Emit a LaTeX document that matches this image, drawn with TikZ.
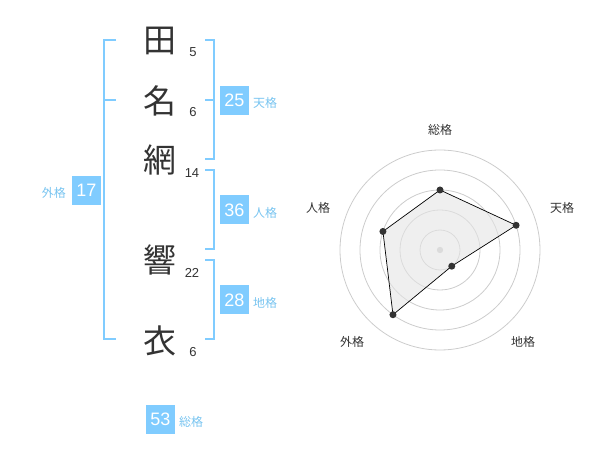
\documentclass[tikz,border=0pt]{standalone}
\usepackage{fontspec}
\usetikzlibrary{calc}
\setmainfont{Liberation Sans}
\newfontfamily\cjk{Noto Sans CJK JP}
\definecolor{bluebox}{RGB}{128,204,255}
\definecolor{bluetxt}{RGB}{120,196,240}
\definecolor{kanji}{RGB}{51,51,51}
\definecolor{ring}{RGB}{204,204,204}
\begin{document}
\begin{tikzpicture}[x=1pt,y=-1pt,
  kanjinode/.style={inner sep=0pt,text=kanji,font=\cjk\fontsize{33}{33}\selectfont},
  strokenum/.style={inner sep=0pt,text=kanji,font=\fontsize{13}{13}\selectfont},
  scorebox/.style={fill=bluebox,text=white,minimum width=29pt,minimum height=29pt,inner sep=0pt,font=\fontsize{18}{18}\selectfont},
  scorelabel/.style={inner sep=0pt,text=bluetxt,font=\cjk\fontsize{12}{12}\selectfont},
  bracketline/.style={draw=bluebox,line width=2pt},
  ringline/.style={draw=ring,line width=0.8pt},
  axislabel/.style={inner sep=0pt,text=kanji,font=\cjk\fontsize{12}{12}\selectfont},
  datadot/.style={circle,fill=kanji,inner sep=0pt,minimum size=7pt}]
\useasboundingbox (0,0) rectangle (600,470);
% kanji
\node[kanjinode] (k1) at (160,41) {田};
\node[kanjinode] (k2) at (160,101) {名};
\node[kanjinode] (k3) at (160,160) {網};
\node[kanjinode] (k4) at (160,260) {響};
\node[kanjinode] (k5) at (160,341) {衣};
% stroke counts
\node[strokenum] (n1) at (193,52.5) {5};
\node[strokenum] (n2) at (193,112.5) {6};
\node[strokenum] (n3) at (192,173) {14};
\node[strokenum] (n4) at (192,272.5) {22};
\node[strokenum] (n5) at (193,352.5) {6};
% brackets
\draw[bracketline] (116,40) -- (104,40) -- (104,339.5) -- (116,339.5);
\draw[bracketline] (104,100) -- (116,100);
\draw[bracketline] (205,40) -- (214,40) -- (214,159.5) -- (205,159.5);
\draw[bracketline] (205,100) -- (214,100);
\draw[bracketline] (205,170) -- (214,170) -- (214,249.5) -- (205,249.5);
\draw[bracketline] (205,260.5) -- (214,260.5) -- (214,339.5) -- (205,339.5);
% score boxes
\node[scorebox] (ten) at (234.5,100.5) {25};
\node[scorelabel,anchor=west] (tenl) at (253,103) {天格};
\node[scorebox] (jin) at (234.5,210) {36};
\node[scorelabel,anchor=west] (jinl) at (253,213) {人格};
\node[scorebox] (chi) at (234.5,300) {28};
\node[scorelabel,anchor=west] (chil) at (253,303) {地格};
\node[scorebox] (gai) at (86.5,190.5) {17};
\node[scorelabel,anchor=east] (gail) at (66,193) {外格};
\node[scorebox] (sou) at (160.5,419) {53};
\node[scorelabel,anchor=west] (soul) at (179,422) {総格};
% radar
\coordinate (c) at (440,250);
\foreach \r in {20,40,60,80,100} \draw[ringline] (c) circle (\r);
\fill[ring] (c) circle (3.2);
\coordinate (p1) at ($(c)+(0,-60)$);
\coordinate (p2) at ($(c)+({80*cos(18)},{-80*sin(18)})$);
\coordinate (p3) at ($(c)+({20*cos(54)},{20*sin(54)})$);
\coordinate (p4) at ($(c)+({-80*cos(54)},{80*sin(54)})$);
\coordinate (p5) at ($(c)+({-60*cos(18)},{-60*sin(18)})$);
\filldraw[fill=black!10,fill opacity=0.6,draw=black,line width=0.7pt] (p1) -- (p2) -- (p3) -- (p4) -- (p5) -- cycle;
\foreach \p in {p1,p2,p3,p4,p5} \node[datadot] at (\p) {};
\node[axislabel] (a1) at (440,130) {総格};
\node[axislabel] (a2) at (562,208) {天格};
\node[axislabel] (a3) at (523,342) {地格};
\node[axislabel] (a4) at (352,342) {外格};
\node[axislabel] (a5) at (318,208) {人格};
\end{tikzpicture}
\end{document}
